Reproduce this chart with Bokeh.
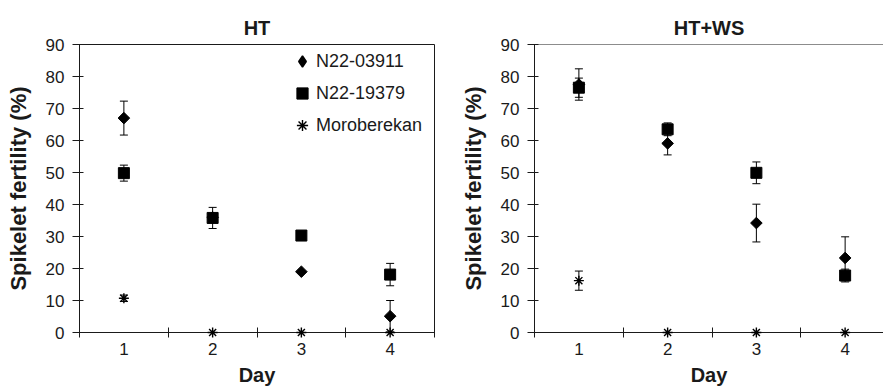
import math
from bokeh.plotting import figure
from bokeh.layouts import row
from bokeh.models import (ColumnDataSource, Whisker, TeeHead, FixedTicker, Range1d,
                          Legend, LegendItem, Span)
from bokeh.embed import file_html
from bokeh.resources import INLINE

# ---- data ----
days = [1, 2, 3, 4]
y_ticks = [0, 10, 20, 30, 40, 50, 60, 70, 80, 90]
series_names = ["N22-03911", "N22-19379", "Moroberekan"]

ht_03911 = [67.0, 36.0, 19.0, 5.1]
ht_03911_err = [5.3, 0.0, 0.0, 4.9]
ht_19379 = [49.8, 35.8, 30.3, 18.1]
ht_19379_err = [2.5, 3.3, 0.0, 3.5]
ht_moro = [10.7, 0.0, 0.0, 0.0]
ht_moro_err = [1.0, 0.0, 0.0, 0.0]

hws_03911 = [77.5, 59.1, 34.2, 23.3]
hws_03911_err = [4.9, 3.6, 5.9, 6.6]
hws_19379 = [76.5, 63.5, 49.9, 17.8]
hws_19379_err = [3.0, 2.0, 3.4, 2.0]
hws_moro = [16.2, 0.0, 0.0, 0.0]
hws_moro_err = [3.0, 0.0, 0.0, 0.0]

FONT = "Liberation Sans"
INK = "#1a1a1a"


def make_panel(title, x_end, border_left, border_right, frame_w, title_off,
               series, with_legend, full_box):
    p = figure(frame_width=frame_w, frame_height=288, output_backend="svg",
               toolbar_location=None, x_range=Range1d(0.5, x_end),
               y_range=Range1d(0, 90), min_border_left=border_left,
               min_border_right=border_right, min_border_top=44,
               min_border_bottom=55)
    p.grid.visible = False
    p.background_fill_color = "white"
    p.border_fill_color = "white"
    if full_box:
        p.outline_line_color = INK
        p.outline_line_width = 1
    else:
        p.outline_line_color = None
        p.add_layout(Span(location=90, dimension="width", line_color=INK, line_width=1))

    p.title.text = title
    p.title.align = "center"
    p.title.vertical_align = "middle"
    p.title.offset = title_off
    p.title.text_font = FONT
    p.title.text_font_size = "20px"
    p.title.text_font_style = "bold"
    p.title.text_color = INK
    p.title.standoff = 10

    # x axis
    xa = p.xaxis[0]
    xa.ticker = FixedTicker(ticks=days, minor_ticks=[0.5, 1.5, 2.5, 3.5, 4.5])
    xa.major_tick_line_color = None
    xa.major_tick_out = 0
    xa.major_tick_in = 0
    xa.minor_tick_line_color = INK
    xa.minor_tick_in = 5
    xa.minor_tick_out = 5
    xa.axis_line_color = INK
    xa.major_label_text_font = FONT
    xa.major_label_text_font_size = "17px"
    xa.major_label_text_color = INK
    xa.major_label_standoff = 5
    xa.axis_label = "Day"
    xa.axis_label_text_font = FONT
    xa.axis_label_text_font_size = "20px"
    xa.axis_label_text_font_style = "bold"
    xa.axis_label_text_color = INK
    xa.axis_label_standoff = 6

    # y axis
    ya = p.yaxis[0]
    ya.ticker = FixedTicker(ticks=y_ticks)
    ya.minor_tick_line_color = None
    ya.major_tick_line_color = INK
    ya.major_tick_in = 4
    ya.major_tick_out = 7
    ya.axis_line_color = INK
    ya.major_label_text_font = FONT
    ya.major_label_text_font_size = "17px"
    ya.major_label_text_color = INK
    ya.major_label_standoff = 8
    ya.axis_label = "Spikelet fertility (%)"
    ya.axis_label_text_font = FONT
    ya.axis_label_text_font_size = "22px"
    ya.axis_label_text_font_style = "bold"
    ya.axis_label_text_color = INK
    ya.axis_label_standoff = 12

    markers = [("square", 8.2, math.pi / 4, 1.0), ("square", 11, 0.0, 1.0),
               ("asterisk", 10, 0.0, 1.4)]
    legend_markers = ["diamond", "square", "asterisk"]
    items = []
    for name, (vals, errs), (mk, sz, ang, lw), lm in zip(series_names, series, markers, legend_markers):
        ex = [d for d, e in zip(days, errs) if e > 0]
        lo = [v - e for v, e in zip(vals, errs) if e > 0]
        hi = [v + e for v, e in zip(vals, errs) if e > 0]
        if ex:
            es = ColumnDataSource(dict(x=ex, lower=lo, upper=hi))
            w = Whisker(base="x", lower="lower", upper="upper", source=es,
                        line_color="black", line_width=1,
                        upper_head=TeeHead(size=8, line_color="black", line_width=1),
                        lower_head=TeeHead(size=8, line_color="black", line_width=1))
            p.add_layout(w)
        src = ColumnDataSource(dict(x=days, y=vals))
        proxy = None
        if lm != mk or ang != 0.0:
            # legend proxy (unrotated diamond), hidden beneath the rotated square
            proxy = p.scatter("x", "y", source=src, marker=lm, size=sz,
                              fill_color="black", line_color="black", line_width=1.5)
        r = p.scatter("x", "y", source=src, marker=mk, size=sz, angle=ang,
                      fill_color="black", line_color="black", line_width=lw,
                      level="overlay")
        items.append(LegendItem(label=name, renderers=[proxy if proxy is not None else r]))

    if with_legend:
        leg = Legend(items=items, location=(209, 193))
        leg.border_line_color = None
        leg.background_fill_alpha = 0
        leg.padding = 0
        leg.margin = 0
        leg.spacing = 4
        leg.glyph_width = 28
        leg.glyph_height = 28
        leg.label_height = 21
        leg.label_standoff = -3
        leg.label_text_font = FONT
        leg.label_text_font_size = "18px"
        leg.label_text_color = INK
        p.add_layout(leg)
    return p


left = make_panel("HT", 4.5, 79, 6, 355, -21,
                  [(ht_03911, ht_03911_err), (ht_19379, ht_19379_err), (ht_moro, ht_moro_err)],
                  True, True)
right = make_panel("HT+WS", 0.5 + 349 / 88.75, 94, 0, 349, -8,
                   [(hws_03911, hws_03911_err), (hws_19379, hws_19379_err), (hws_moro, hws_moro_err)],
                   False, False)

layout = row(left, right)
open("out.html", "w").write(file_html(layout, INLINE))
